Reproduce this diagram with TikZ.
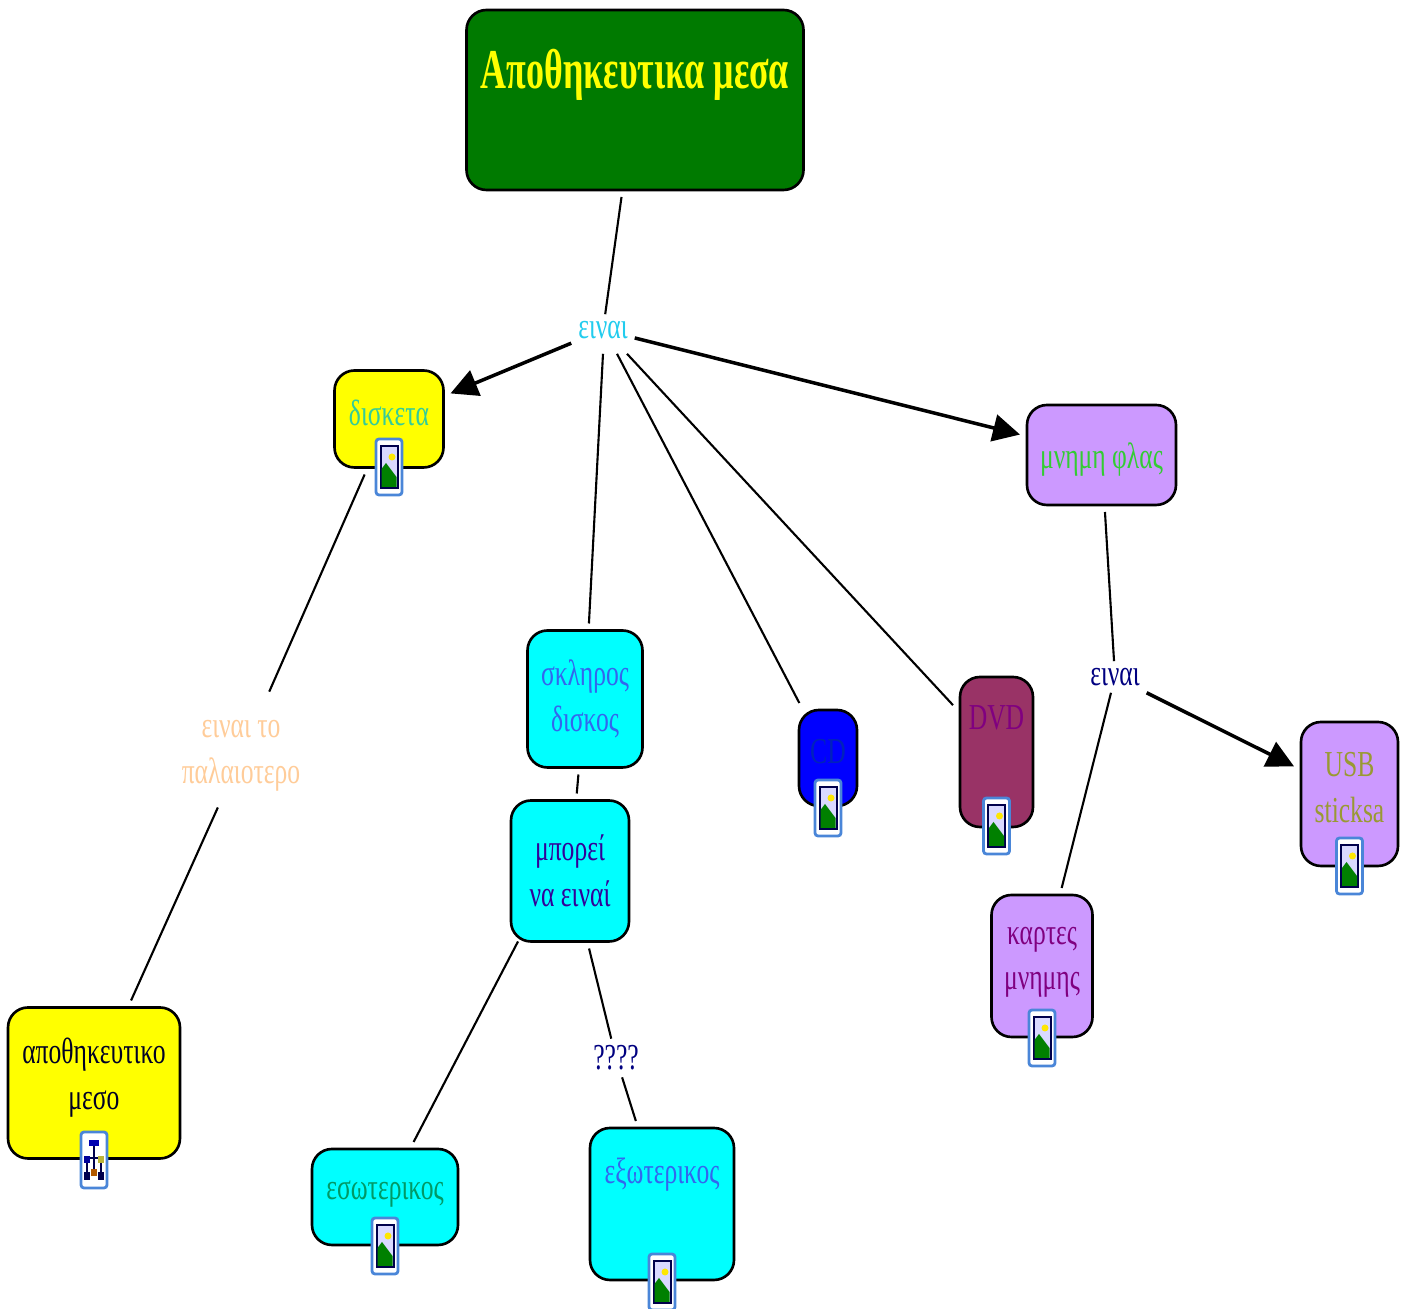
\documentclass[tikz,border=0pt]{standalone}
\usepackage{fontspec}
\setmainfont[FakeStretch=0.70]{Liberation Serif}
\usetikzlibrary{arrows.meta,positioning}
\definecolor{wine}{HTML}{993366}
\definecolor{lilac}{HTML}{CC99FF}
\definecolor{darkgreen}{HTML}{007A00}
\definecolor{peach}{HTML}{FFCC99}
\definecolor{iconblue}{HTML}{4A86D8}
\definecolor{aqua}{HTML}{00FFFF}
\definecolor{lemon}{HTML}{FFFF00}
\definecolor{skytext}{HTML}{22CCEE}
\definecolor{tealtext}{HTML}{33CC99}
\definecolor{bluetext}{HTML}{3366EE}
\definecolor{indigotext}{HTML}{330099}
\definecolor{seatext}{HTML}{009966}
\definecolor{navytext}{HTML}{000080}
\definecolor{cdtext}{HTML}{0022BB}
\definecolor{purpletext}{HTML}{800080}
\definecolor{greentext}{HTML}{33CC33}
\definecolor{olivetext}{HTML}{999933}
\tikzset{
    concept/.style={
    rectangle,rounded corners=0.2cm,draw=black,line width=0.75pt,inner sep=0pt,outer sep=0.07cm,align=center,font=\fontsize{10.4pt}{13pt}\selectfont
    },
    linking/.style={
    rectangle,inner sep=0.03cm,outer sep=0.04cm,align=center,font=\fontsize{10.4pt}{13pt}\selectfont
    },
    plain/.style={
    draw=black,line width=0.6pt
    },
    strong/.style={
    draw=black,line width=1pt,-{Triangle[length=0.27cm,width=0.27cm]}
    },
    pics/photoicon/.style={code={
       \draw[iconblue,fill=white,line width=0.8pt,rounded corners=0.03cm] (-0.13,-0.28) rectangle (0.13,0.28);
       \fill[blue!30!black] (-0.095,-0.22) rectangle (0.095,0.22);
       \fill[blue!15!white] (-0.075,-0.2) rectangle (0.075,0.2);
       \fill[yellow!90!orange] (0.03,0.1) circle (0.035);
       \fill[green!50!black] (-0.075,-0.2) -- (-0.075,-0.02) -- (-0.03,0.04) -- (0.075,-0.1) -- (0.075,-0.2) -- cycle;
    }},
    pics/mapicon/.style={code={
       \draw[iconblue,fill=white,line width=0.8pt,rounded corners=0.03cm] (-0.13,-0.28) rectangle (0.13,0.28);
       \draw[blue!30!black,line width=0.3pt] (0,0.16) -- (0,-0.12) (-0.07,0.02) -- (0.07,0.02) (-0.07,0.02) -- (-0.07,-0.14) (0.07,0.02) -- (0.07,-0.14);
       \fill[blue!70!black] (-0.05,0.14) rectangle (0.05,0.2);
       \fill[blue!60!black] (-0.1,-0.03) rectangle (-0.04,0.04);
       \fill[yellow!70!black] (0.04,-0.03) rectangle (0.1,0.04);
       \fill[blue!30!black] (-0.1,-0.2) rectangle (-0.04,-0.12);
       \fill[orange!70!black] (-0.03,-0.16) rectangle (0.03,-0.09);
       \fill[blue!30!black] (0.04,-0.2) rectangle (0.1,-0.12);
    }},
}
\begin{document}
\begin{tikzpicture}
   \useasboundingbox (0,0) rectangle (14.05,-13.09);

   \node[concept,fill=darkgreen,text=lemon,minimum width=3.37cm,minimum height=1.8cm,text depth=0.62cm,font=\fontsize{16pt}{18pt}\addfontfeature{FakeStretch=0.64}\bfseries\selectfont] (store) at (6.35,-1.00) {Αποθηκευτικα μεσα};
   \node[linking,text=skytext] (is) at (6.03,-3.30) {ειναι};

   \node[concept,fill=lemon,text=tealtext,minimum width=1.09cm,minimum height=0.97cm,text depth=0.13cm] (floppy) at (3.89,-4.19) {δισκετα};
   \node[linking,text=peach] (oldest) at (2.41,-7.56) {ειναι το\\παλαιοτερο};
   \node[concept,fill=lemon,text=black!85!blue,minimum width=1.72cm,minimum height=1.51cm,text depth=0.19cm] (medium) at (0.94,-10.83) {αποθηκευτικο\\μεσο};

   \node[concept,fill=aqua,text=bluetext,minimum width=1.15cm,minimum height=1.37cm] (hard) at (5.85,-6.99) {σκληρος\\δισκος};
   \node[concept,fill=aqua,text=indigotext,minimum width=1.18cm,minimum height=1.41cm] (maybe) at (5.70,-8.71) {μπορεί\\να ειναί};
   \node[concept,fill=aqua,text=seatext,minimum width=1.46cm,minimum height=0.96cm,text depth=0.14cm] (inner) at (3.85,-11.97) {εσωτερικος};
   \node[linking,text=navytext] (unknown) at (6.16,-10.58) {????};
   \node[concept,fill=aqua,text=bluetext,minimum width=1.44cm,minimum height=1.52cm,text depth=0.66cm] (outer) at (6.62,-12.04) {εξωτερικος};

   \node[concept,fill=blue,text=cdtext,minimum width=0.58cm,minimum height=0.96cm,text depth=0.14cm] (cd) at (8.28,-7.58) {CD};
   \node[concept,fill=wine,text=purpletext,minimum width=0.73cm,minimum height=1.50cm,text depth=0.69cm] (dvd) at (9.965,-7.52) {DVD};

   \node[concept,fill=lilac,text=greentext,minimum width=1.49cm,minimum height=1.00cm,text height=0.35cm] (flash) at (11.015,-4.55) {μνημη φλας};
   \node[linking,text=navytext] (isb) at (11.15,-6.77) {ειναι};
   \node[concept,fill=lilac,text=purpletext,minimum width=1.01cm,minimum height=1.42cm,text depth=0.15cm] (cards) at (10.42,-9.66) {καρτες\\μνημης};
   \node[concept,fill=lilac,text=olivetext,minimum width=0.97cm,minimum height=1.44cm,text depth=0.13cm] (usb) at (13.495,-7.94) {USB\\sticksa};

   % icons under the concepts
   \pic at (3.89,-4.67) {photoicon};
   \pic at (0.94,-11.60) {mapicon};
   \pic at (8.28,-8.08) {photoicon};
   \pic at (9.965,-8.26) {photoicon};
   \pic at (3.85,-12.46) {photoicon};
   \pic at (6.62,-12.82) {photoicon};
   \pic at (10.42,-10.38) {photoicon};
   \pic at (13.495,-8.66) {photoicon};

   \path[plain]
     (store) edge (is)
     ([yshift=-0.08cm]is.south) edge (hard)
     ([xshift=0.14cm,yshift=-0.08cm]is.south) edge (cd)
     ([xshift=0.24cm,yshift=-0.08cm]is.south) edge (dvd)
     (floppy) edge[shorten >=0.24cm] (oldest)
     (oldest) edge[shorten <=0.1cm] (medium)
     (hard) edge (maybe)
     ([shift={(0.14,0.07)}]maybe.south west) edge (inner)
     (maybe) edge (unknown)
     (unknown) edge (outer)
     (flash) edge (isb)
     (isb) edge (cards);
   \path[strong]
     (is) edge (floppy)
          edge (flash)
     (isb) edge (usb);
\end{tikzpicture}
\end{document}
